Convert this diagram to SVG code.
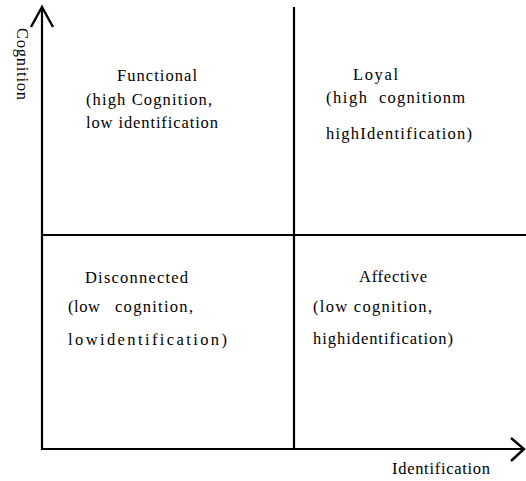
<svg xmlns="http://www.w3.org/2000/svg" width="526" height="481" viewBox="0 0 526 481">
<style>
.ln{stroke:#000;stroke-width:2.2;fill:none;stroke-linecap:butt}
.ah{stroke:#000;stroke-width:2.4;fill:none;stroke-linejoin:miter}
text{font-family:"Liberation Serif","Times New Roman",serif;font-size:16.5px;fill:#000}
</style>
<rect width="526" height="481" fill="#fff"/>
<g id="connectors">
<line class="ln" x1="42" y1="8" x2="42" y2="450"/>
<line class="ln" x1="41" y1="449" x2="524" y2="449"/>
<path class="ah" d="M31,27 L42,7 L53,27"/>
<path class="ah" d="M511,438 L524,449 L511,461"/>
<line class="ln" x1="294" y1="7" x2="294" y2="449"/>
<line class="ln" x1="42" y1="235" x2="526" y2="235"/>
</g>
<g id="axis-cognition">
<text transform="translate(17,28) rotate(90)" textLength="72" lengthAdjust="spacing">Cognition</text>
</g>
<g id="axis-identification">
<text x="392" y="474" textLength="98" lengthAdjust="spacing">Identification</text>
</g>
<g id="functional">
<text x="117" y="81" textLength="80" lengthAdjust="spacing">Functional</text>
<text x="86" y="105" textLength="126" lengthAdjust="spacing">(high Cognition,</text>
<text x="86" y="128" textLength="132" lengthAdjust="spacing">low identification</text>
</g>
<g id="loyal">
<text x="353" y="80" textLength="45" lengthAdjust="spacing">Loyal</text>
<text x="326" y="103" textLength="41" lengthAdjust="spacing">(high</text>
<text x="379" y="103" textLength="86" lengthAdjust="spacing">cognitionm</text>
<text x="326" y="139" textLength="146" lengthAdjust="spacing">highIdentification)</text>
</g>
<g id="disconnected">
<text x="85" y="283" textLength="103" lengthAdjust="spacing">Disconnected</text>
<text x="68" y="312" textLength="32" lengthAdjust="spacing">(low</text>
<text x="115" y="312" textLength="78" lengthAdjust="spacing">cognition,</text>
<text x="68" y="345" textLength="159" lengthAdjust="spacing">lowidentification)</text>
</g>
<g id="affective">
<text x="359" y="282" textLength="68" lengthAdjust="spacing">Affective</text>
<text x="313" y="312" textLength="119" lengthAdjust="spacing">(low cognition,</text>
<text x="313" y="344" textLength="140" lengthAdjust="spacing">highidentification)</text>
</g>
</svg>
